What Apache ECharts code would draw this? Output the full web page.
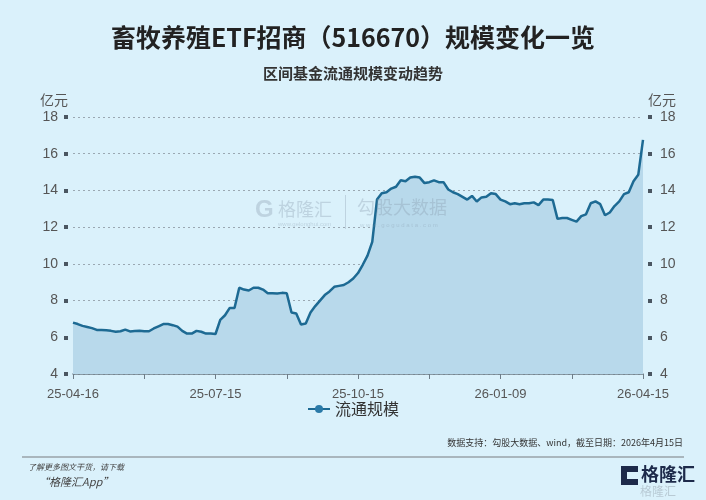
<!DOCTYPE html>
<html>
<head>
<meta charset="utf-8">
<script src="https://cdn.jsdelivr.net/npm/echarts@6/dist/echarts.min.js"></script>
<style>
html,body{margin:0;padding:0;background:#daf1fb;}
#c{width:706px;height:500px;}
</style>
</head>
<body>
<div id="c"></div>
<script>
const categories = [
'25-04-16','25-04-18','25-04-22','25-04-24','25-04-28','25-04-30','25-05-07','25-05-09','25-05-13','25-05-15',
'25-05-19','25-05-21','25-05-23','25-05-27','25-05-29','25-06-03','25-06-05','25-06-09','25-06-11','25-06-13',
'25-06-17','25-06-19','25-06-23','25-06-25','25-06-27','25-07-01','25-07-03','25-07-07','25-07-09','25-07-11',
'25-07-15','25-07-17','25-07-21','25-07-23','25-07-25','25-07-29','25-07-31','25-08-04','25-08-06','25-08-08',
'25-08-12','25-08-14','25-08-18','25-08-20','25-08-22','25-08-26','25-08-28','25-09-01','25-09-03','25-09-05',
'25-09-09','25-09-11','25-09-15','25-09-17','25-09-19','25-09-23','25-09-25','25-09-29','25-10-09','25-10-13',
'25-10-15','25-10-17','25-10-21','25-10-23','25-10-27','25-10-29','25-10-31','25-11-04','25-11-06','25-11-10',
'25-11-12','25-11-14','25-11-18','25-11-20','25-11-24','25-11-26','25-11-28','25-12-02','25-12-04','25-12-08',
'25-12-10','25-12-12','25-12-16','25-12-18','25-12-22','25-12-24','25-12-26','25-12-30','26-01-05','26-01-07',
'26-01-09','26-01-13','26-01-15','26-01-19','26-01-21','26-01-23','26-01-27','26-01-29','26-02-02','26-02-04',
'26-02-06','26-02-10','26-02-12','26-02-24','26-02-26','26-03-02','26-03-04','26-03-06','26-03-10','26-03-12',
'26-03-16','26-03-18','26-03-20','26-03-24','26-03-26','26-03-30','26-04-01','26-04-03','26-04-08','26-04-10',
'26-04-15'
];
const scaleValues = [
6.80,6.72,6.62,6.56,6.50,6.40,6.40,6.38,6.35,6.30,
6.33,6.42,6.32,6.34,6.36,6.33,6.33,6.48,6.60,6.72,
6.72,6.66,6.58,6.35,6.20,6.20,6.35,6.30,6.20,6.20,
6.18,6.95,7.20,7.60,7.60,8.70,8.60,8.55,8.70,8.70,
8.60,8.40,8.40,8.38,8.42,8.40,7.35,7.30,6.70,6.75,
7.35,7.70,8.00,8.30,8.50,8.75,8.80,8.85,9.00,9.20,
9.50,9.95,10.45,11.20,13.50,13.85,13.90,14.10,14.20,14.55,
14.50,14.70,14.75,14.70,14.40,14.45,14.55,14.45,14.45,14.05,
13.90,13.80,13.65,13.50,13.70,13.40,13.62,13.65,13.85,13.80,
13.50,13.40,13.25,13.30,13.25,13.30,13.30,13.35,13.20,13.50,
13.50,13.48,12.45,12.50,12.50,12.40,12.30,12.60,12.70,13.30,
13.40,13.25,12.65,12.80,13.15,13.40,13.80,13.90,14.50,14.85,
16.75
];
const seriesName = '流通规模';
const titleText = '畜牧养殖ETF招商（516670）规模变化一览';
const subtitleText = '区间基金流通规模变动趋势';
const unitName = '亿元';
const sourceText = '数据支持：勾股大数据、wind，截至日期：2026年4月15日';

const chart = echarts.init(document.getElementById('c'), null, {renderer:'canvas'});
const cjk = '"Noto Sans CJK SC", "Noto Sans", sans-serif';
const latin = '"Liberation Sans", Arial, sans-serif';
const wm = 'rgba(130,150,168,0.32)';
const yAxisCommon = {
  type:'value', min:4, max:18, interval:2, offset:5,
  name:unitName,
  nameGap:10,
  axisLine:{show:false},
  axisTick:{show:true, length:4, lineStyle:{width:4, color:'#4a5661'}},
  axisLabel:{color:'#555', fontSize:14, fontFamily:latin},
  splitLine:{show:true, lineStyle:{type:[2,3], color:'#9aa8b2', width:1}}
};
chart.setOption({
  backgroundColor:'#daf1fb',
  animation:false,
  title:[
    {text:titleText, left:'center', top:20, textStyle:{fontFamily:cjk, fontSize:25, fontWeight:'bold', color:'#222'}},
    {text:subtitleText, left:'center', top:61, textStyle:{fontFamily:cjk, fontSize:15, fontWeight:'bold', color:'#333'}}
  ],
  legend:{
    data:[seriesName], bottom:78, left:'center', itemWidth:22, itemHeight:10,
    textStyle:{fontFamily:cjk, fontSize:16, color:'#333'}
  },
  grid:{left:73, right:63, top:117, bottom:126, containLabel:false},
  xAxis:{
    type:'category', data:categories, boundaryGap:false,
    axisLine:{lineStyle:{color:'#6d7c87', width:1.5}},
    axisTick:{show:true, interval:14, length:5, lineStyle:{color:'#6d7c87'}},
    axisLabel:{interval:29, color:'#555', fontSize:13, fontFamily:latin, margin:14},
    splitLine:{show:false}
  },
  yAxis:[
    Object.assign({}, yAxisCommon, {position:'left',
      nameTextStyle:{fontFamily:cjk, fontSize:14, color:'#555', align:'right'},
      axisLabel:Object.assign({}, yAxisCommon.axisLabel, {margin:10})}),
    Object.assign({}, yAxisCommon, {position:'right',
      nameTextStyle:{fontFamily:cjk, fontSize:14, color:'#555', align:'left'},
      axisLabel:Object.assign({}, yAxisCommon.axisLabel, {margin:12}),
      splitLine:{show:false}})
  ],
  series:[{
    name:seriesName, type:'line', data:scaleValues, yAxisIndex:0,
    symbol:'circle', symbolSize:7, showSymbol:false, smooth:false,
    lineStyle:{color:'#1d6a93', width:2.5},
    itemStyle:{color:'#2a7aa8'},
    areaStyle:{color:'#b8d9eb', opacity:1}
  }],
  graphic:[
    {type:'text', z:100, left:255, top:198, style:{text:'G', font:'bold 24px '+latin, fill:wm}},
    {type:'text', z:100, left:278, top:200, style:{text:'格隆汇', font:'18px '+cjk, fill:wm}},
    {type:'text', z:100, left:278, top:221, style:{text:'www.gelonghui.com', font:'6px '+latin, fill:wm}},
    {type:'rect', z:100, shape:{x:345, y:195, width:1, height:34}, style:{fill:wm}},
    {type:'text', z:100, left:357, top:198, style:{text:'勾股大数据', font:'18px '+cjk, fill:wm}},
    {type:'text', z:100, left:360, top:222, style:{text:'w w w . g o g u d a t a . c o m', font:'6px '+latin, fill:wm}},
    {type:'text', right:23, top:438, style:{text:sourceText, font:'9px '+cjk, fill:'#333'}},
    {type:'rect', shape:{x:22, y:456, width:662, height:2}, style:{fill:'#a9b6bd'}},
    {type:'text', left:28, top:463, style:{text:'了解更多图文干货，请下载', font:'italic 8px '+cjk, fill:'#444'}},
    {type:'text', left:38, top:476, style:{text:'“格隆汇App”', font:'italic 11px '+cjk, fill:'#444'}},
    {type:'rect', shape:{x:621, y:466, width:17, height:19}, style:{fill:'#1d2a4a'}},
    {type:'rect', shape:{x:627, y:472, width:11, height:7}, style:{fill:'#daf1fb'}},
    {type:'text', left:641, top:465, style:{text:'格隆汇', font:'bold 18px '+cjk, fill:'#1d2a4a'}},
    {type:'text', left:640, top:485, style:{text:'格隆汇', font:'12px '+cjk, fill:'rgba(120,130,140,0.35)'}}
  ]
});
</script>
</body>
</html>
